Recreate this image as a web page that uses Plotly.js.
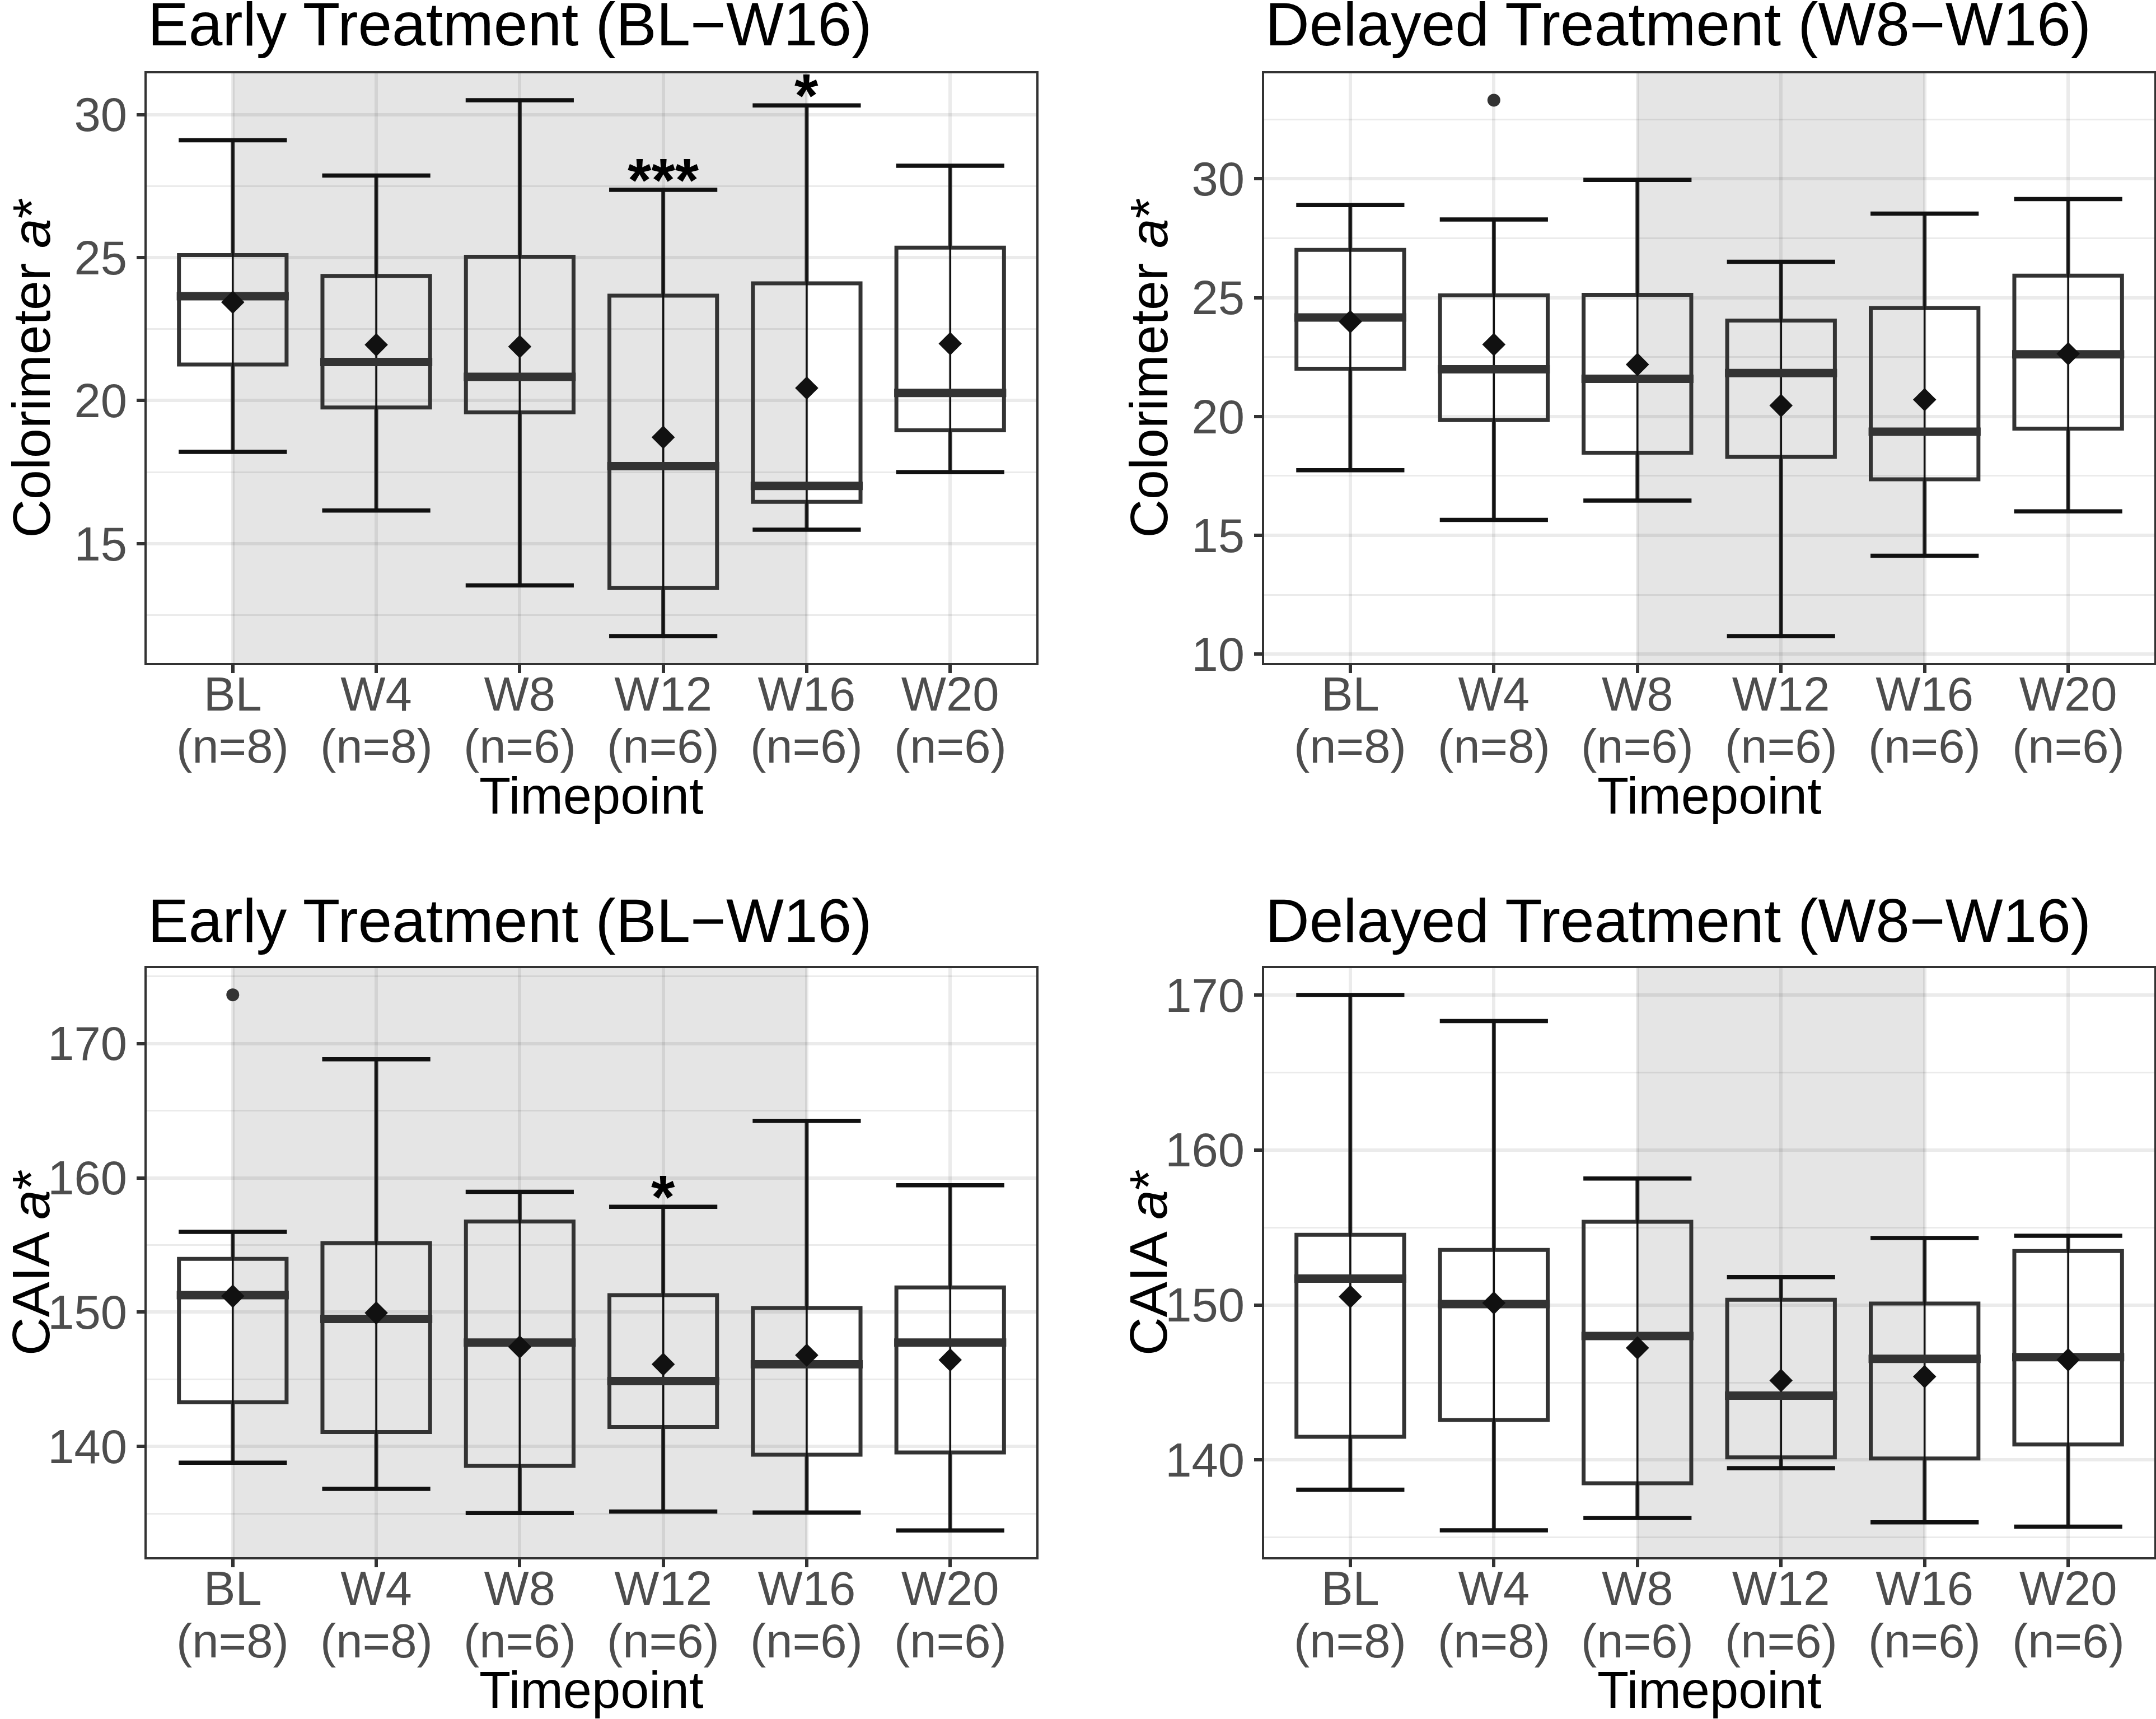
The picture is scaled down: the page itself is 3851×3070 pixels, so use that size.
<!DOCTYPE html>
<html>
<head>
<meta charset="utf-8">
<script src="https://cdn.plot.ly/plotly-3.0.1.min.js"></script>
<style>
html, body { margin: 0; padding: 0; background: #fff; }
#fig { width: 3851px; height: 3070px; }
</style>
</head>
<body>
<div id="fig"></div>
<script>
var cats = ['BL', 'W4', 'W8', 'W12', 'W16', 'W20'];
var catN = ['(n=8)', '(n=8)', '(n=6)', '(n=6)', '(n=6)', '(n=6)'];

/* Colorimeter a*, early treatment */
var colEarlyLow  = [18.21, 16.16, 13.54, 11.77, 15.49, 17.50];
var colEarlyQ1   = [21.26, 19.76, 19.59, 13.45, 16.46, 18.96];
var colEarlyMed  = [23.65, 21.35, 20.83, 17.71, 17.02, 20.27];
var colEarlyQ3   = [25.09, 24.36, 25.03, 23.67, 24.10, 25.35];
var colEarlyHigh = [29.10, 27.87, 30.50, 27.37, 30.32, 28.21];
var colEarlyMean = [23.44, 21.95, 21.89, 18.72, 20.44, 21.99];

/* Colorimeter a*, delayed treatment */
var colDelLow  = [17.74, 15.65, 16.46, 10.76, 14.14, 16.01];
var colDelQ1   = [22.01, 19.85, 18.48, 18.30, 17.36, 19.49];
var colDelMed  = [24.17, 21.99, 21.59, 21.83, 19.36, 22.62];
var colDelQ3   = [27.01, 25.10, 25.12, 24.04, 24.56, 25.93];
var colDelHigh = [28.90, 28.29, 29.96, 26.51, 28.54, 29.15];
var colDelMean = [23.99, 23.03, 22.19, 20.46, 20.71, 22.64];
var colDelOutX = ['W4'];
var colDelOutY = [33.31];

/* CAIA a*, early treatment */
var caiaEarlyLow  = [138.79, 136.85, 135.04, 135.16, 135.08, 133.75];
var caiaEarlyQ1   = [143.30, 141.08, 138.55, 141.45, 139.39, 139.55];
var caiaEarlyMed  = [151.27, 149.50, 147.73, 144.87, 146.12, 147.73];
var caiaEarlyQ3   = [153.97, 155.14, 156.75, 151.27, 150.31, 151.84];
var caiaEarlyHigh = [155.98, 168.83, 158.96, 157.84, 164.24, 159.45];
var caiaEarlyMean = [151.19, 149.94, 147.41, 146.12, 146.80, 146.44];
var caiaEarlyOutX = ['BL'];
var caiaEarlyOutY = [173.62];

/* CAIA a*, delayed treatment */
var caiaDelLow  = [138.08, 135.46, 136.26, 139.47, 135.98, 135.70];
var caiaDelQ1   = [141.50, 142.58, 138.50, 140.17, 140.10, 141.00];
var caiaDelMed  = [151.70, 150.06, 148.00, 144.15, 146.53, 146.63];
var caiaDelQ3   = [154.53, 153.55, 155.37, 150.34, 150.09, 153.48];
var caiaDelHigh = [170.00, 168.32, 158.16, 151.80, 154.32, 154.46];
var caiaDelMean = [150.54, 150.13, 147.23, 145.13, 145.38, 146.46];

/* significance marks */
var colEarlyStarX = ['W12', 'W16'];
var colEarlyStarY = [27.37, 30.32];
var colEarlyStars = ['***', '*'];
var caiaEarlyStarX = ['W12'];
var caiaEarlyStarY = [157.84];
var caiaEarlyStars = ['*'];

var FONT = 'Liberation Sans, Arial, Helvetica, sans-serif';
var W = 3851, H = 3070;

function panel(n, low, q1, med, q3, high, mean, outX, outY) {
  var xa = 'x' + (n > 1 ? n : ''), ya = 'y' + (n > 1 ? n : '');
  var tr = [];
  // thin line through the whole range (errorbar)
  tr.push({
    type: 'scatter', mode: 'markers', x: cats, y: med, xaxis: xa, yaxis: ya,
    marker: {size: 1, opacity: 0},
    error_y: {type: 'data', symmetric: false,
      array: high.map(function(h, i) { return h - med[i]; }),
      arrayminus: low.map(function(l, i) { return med[i] - l; }),
      width: 0, thickness: 3.5, color: '#111111'},
    hoverinfo: 'skip', showlegend: false
  });
  tr.push({
    type: 'box', x: cats, q1: q1, median: med, q3: q3,
    lowerfence: low, upperfence: high, xaxis: xa, yaxis: ya,
    width: 0.75, whiskerwidth: 0, boxpoints: false,
    fillcolor: 'rgba(0,0,0,0)', line: {color: '#333333', width: 7},
    showlegend: false
  });
  // thicker median
  tr.push({
    type: 'scatter', mode: 'markers', x: cats, y: med, xaxis: xa, yaxis: ya,
    marker: {symbol: 'line-ew', size: 143, color: '#333333', line: {color: '#333333', width: 15}},
    hoverinfo: 'skip', showlegend: false
  });
  // errorbar caps
  tr.push({
    type: 'scatter', mode: 'markers', x: cats.concat(cats), y: low.concat(high), xaxis: xa, yaxis: ya,
    marker: {symbol: 'line-ew', size: 138, color: '#111111', line: {color: '#111111', width: 7.5}},
    hoverinfo: 'skip', showlegend: false
  });
  // means
  tr.push({
    type: 'scatter', mode: 'markers', x: cats, y: mean, xaxis: xa, yaxis: ya,
    marker: {symbol: 'diamond', size: 32, color: '#111111', line: {width: 0}},
    showlegend: false
  });
  if (outX) {
    tr.push({
      type: 'scatter', mode: 'markers', x: outX, y: outY, xaxis: xa, yaxis: ya,
      marker: {symbol: 'circle', size: 23, color: '#333333', line: {width: 0}},
      showlegend: false
    });
  }
  return tr;
}

var data = []
  .concat(panel(1, colEarlyLow, colEarlyQ1, colEarlyMed, colEarlyQ3, colEarlyHigh, colEarlyMean))
  .concat(panel(2, colDelLow, colDelQ1, colDelMed, colDelQ3, colDelHigh, colDelMean, colDelOutX, colDelOutY))
  .concat(panel(3, caiaEarlyLow, caiaEarlyQ1, caiaEarlyMed, caiaEarlyQ3, caiaEarlyHigh, caiaEarlyMean, caiaEarlyOutX, caiaEarlyOutY))
  .concat(panel(4, caiaDelLow, caiaDelQ1, caiaDelMed, caiaDelQ3, caiaDelHigh, caiaDelMean));

// plot areas in pixels: [left, right, top, bottom]
var boxes = [[262, 1851, 131, 1184], [2258, 3848, 131, 1184], [262, 1851, 1729, 2781], [2258, 3848, 1729, 2781]];
var yRanges = [[10.83, 31.44], [9.63, 34.44], [131.76, 175.61], [133.73, 171.73]];
var yDtick = [5, 5, 10, 10];

var layout = {
  width: W, height: H,
  margin: {l: 0, r: 0, t: 0, b: 0},
  paper_bgcolor: '#ffffff', plot_bgcolor: '#ffffff',
  showlegend: false, boxmode: 'overlay',
  font: {family: FONT, color: '#000000'},
  shapes: [], annotations: []
};

var titles = ['Early Treatment (BL\u2212W16)', 'Delayed Treatment (W8\u2212W16)', 'Early Treatment (BL\u2212W16)', 'Delayed Treatment (W8\u2212W16)'];
var yTitles = ['Colorimeter <i>a</i>*', 'Colorimeter <i>a</i>*', 'CAIA <i>a</i>*', 'CAIA <i>a</i>*'];
var shade = [[0, 4], [2, 4], [0, 4], [2, 4]];
var GRID = 'rgba(0,0,0,0.078)';

for (var i = 0; i < 4; i++) {
  var b = boxes[i];
  var sfx = i > 0 ? String(i + 1) : '';
  layout['xaxis' + sfx] = {
    domain: [b[0] / W, b[1] / W], anchor: 'y' + sfx,
    type: 'category', range: [-0.6, 5.6],
    tickvals: cats, ticktext: cats, ticklabelstandoff: -35,
    ticks: 'outside', ticklen: 14, tickwidth: 6, tickcolor: '#333333',
    tickfont: {family: FONT, size: 85, color: '#4d4d4d'},
    showgrid: true, gridcolor: GRID, gridwidth: 6,
    showline: true, mirror: true, linecolor: '#333333', linewidth: 4,
    zeroline: false, fixedrange: true
  };
  layout['yaxis' + sfx] = {
    domain: [1 - b[3] / H, 1 - b[2] / H], anchor: 'x' + sfx,
    range: yRanges[i], dtick: yDtick[i], tick0: 0,
    ticks: 'outside', ticklen: 14, tickwidth: 6, tickcolor: '#333333',
    tickfont: {family: FONT, size: 85, color: '#4d4d4d'},
    showgrid: true, gridcolor: GRID, gridwidth: 6,
    minor: {dtick: yDtick[i] / 2, tick0: 0, showgrid: true, gridcolor: GRID, gridwidth: 3},
    showline: true, mirror: true, linecolor: '#333333', linewidth: 4,
    zeroline: false, fixedrange: true
  };
  layout.shapes.push({
    type: 'rect', layer: 'below', xref: 'x' + sfx, yref: 'paper',
    x0: shade[i][0], x1: shade[i][1], y0: 1 - b[3] / H, y1: 1 - b[2] / H,
    fillcolor: 'rgba(0,0,0,0.1)', line: {width: 0}
  });
  var capMid = i < 2 ? 42.5 : 1644;
  layout.annotations.push({
    xref: 'paper', yref: 'paper', x: b[0] / W, y: 1 - capMid / H,
    xanchor: 'left', yanchor: 'middle', showarrow: false,
    text: titles[i], font: {family: FONT, size: 109, color: '#000000'}
  });
  // sample size line under each tick label
  for (var k = 0; k < cats.length; k++) {
    layout.annotations.push({
      xref: 'x' + sfx, yref: 'paper', x: cats[k], y: 1 - (b[3] + 149) / H,
      xanchor: 'center', yanchor: 'middle', showarrow: false, borderpad: 0,
      text: catN[k], font: {family: FONT, size: 85, color: '#4d4d4d'}
    });
  }
  layout.annotations.push({
    xref: 'paper', yref: 'paper', x: (b[0] + b[1]) / 2 / W, y: 1 - (b[3] + 237) / H,
    xanchor: 'center', yanchor: 'middle', showarrow: false,
    text: 'Timepoint', font: {family: FONT, size: 92, color: '#000000'}
  });
  layout.annotations.push({
    xref: 'paper', yref: 'paper', x: (b[0] - 207) / W, y: 1 - (b[2] + b[3]) / 2 / H,
    xanchor: 'center', yanchor: 'middle', showarrow: false, textangle: -90,
    text: yTitles[i], font: {family: FONT, size: 95, color: '#000000'}
  });
}

function addStars(n, xs, ys, labels) {
  var sfx = n > 1 ? String(n) : '';
  for (var k = 0; k < xs.length; k++) {
    layout.annotations.push({
      xref: 'x' + sfx, yref: 'y' + sfx, x: xs[k], y: ys[k],
      xanchor: 'center', yanchor: 'bottom', yshift: -45, showarrow: false,
      text: '<b>' + labels[k] + '</b>', font: {family: FONT, size: 109, color: '#000000'}
    });
  }
}
addStars(1, colEarlyStarX, colEarlyStarY, colEarlyStars);
addStars(3, caiaEarlyStarX, caiaEarlyStarY, caiaEarlyStars);

Plotly.newPlot('fig', data, layout, {staticPlot: true});
</script>
</body>
</html>
